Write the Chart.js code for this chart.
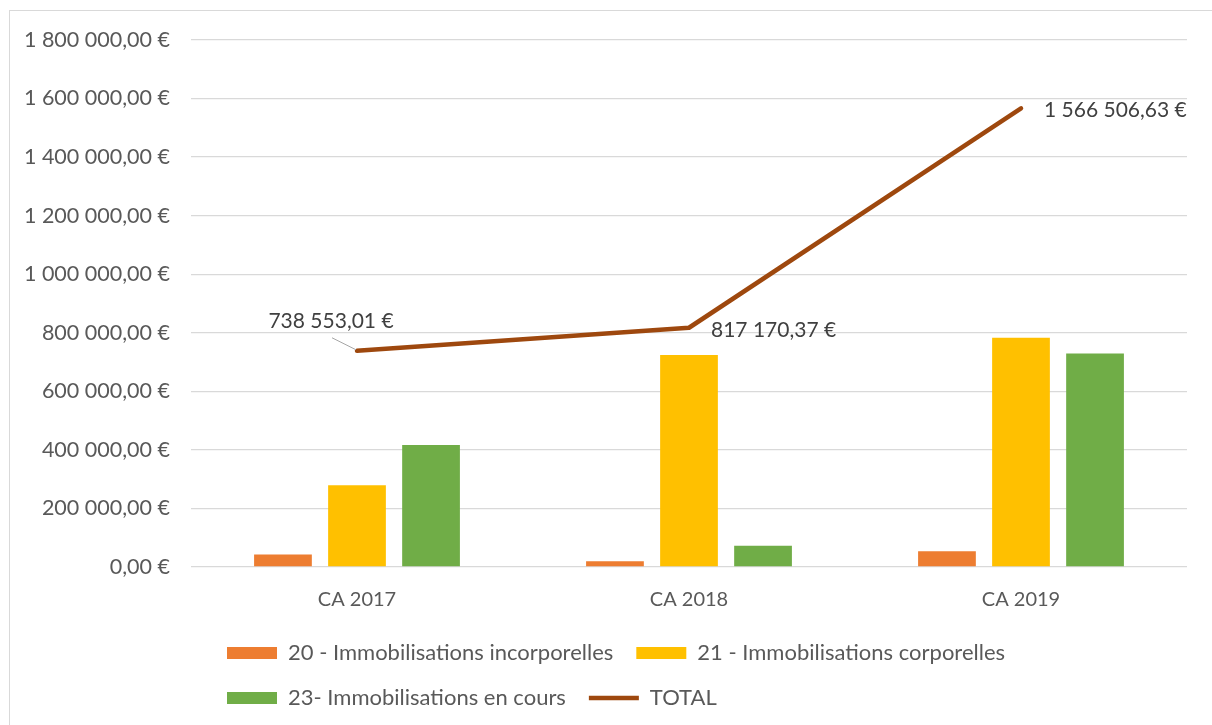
<!DOCTYPE html>
<html>
<head>
<meta charset="utf-8">
<script src="https://cdn.jsdelivr.net/npm/chart.js@4/dist/chart.umd.min.js"></script>
<style>
  body { margin: 0; background: #fff; }
  canvas { display: block; }
</style>
</head>
<body>
<canvas id="graphique" width="1212" height="725"></canvas>
<script>
const categories = ["CA 2017", "CA 2018", "CA 2019"]
const incorporelles = [43000, 20000, 54000]
const corporelles = [279000, 724000, 783000]
const enCours = [416500, 73000, 729500]
const total = [738553.01, 817170.37, 1566506.63]
const yMin = 0
const yMax = 1800000
const yStep = 200000

function euro(v) {
    const [ent, dec] = v.toFixed(2).split(".")
    return ent.replace(/\B(?=(\d{3})+(?!\d))/g, " ") + "," + dec + " €"
}

const police = "Lato, 'Open Sans', sans-serif"

// fond blanc + cadre gris clair autour du graphique
const cadre = {
    id: "cadre",
    beforeDraw(chart) {
        const ctx = chart.ctx
        ctx.save()
        ctx.fillStyle = "#fff"
        ctx.fillRect(0, 0, chart.width, chart.height)
        ctx.strokeStyle = "#d9d9d9"
        ctx.lineWidth = 1
        ctx.strokeRect(9.5, 10.5, chart.width + 20, chart.height + 20)
        ctx.restore()
    },
    afterLayout(chart) {
        // la légende commence un peu plus à droite que la zone de tracé
        chart.legend.left += 13
        chart.legend.right += 13
    }
}

// étiquettes des totaux sur la courbe
const etiquettes = {
    id: "etiquettes",
    afterDatasetsDraw(chart) {
        const ctx = chart.ctx
        const meta = chart.getDatasetMeta(3)
        const decalages = [[-26, -30], [22, 2], [23, 2]]
        ctx.save()
        ctx.font = "21px " + police
        ctx.fillStyle = "#404040"
        ctx.textBaseline = "middle"
        meta.data.forEach((pt, i) => {
            const [dx, dy] = decalages[i]
            const txt = euro(total[i])
            if (i === 0) {
                ctx.textAlign = "center"
                ctx.fillText(txt, pt.x + dx, pt.y + dy)
                ctx.strokeStyle = "#a6a6a6"
                ctx.lineWidth = 1
                ctx.beginPath()
                ctx.moveTo(pt.x - 25, pt.y - 13)
                ctx.lineTo(pt.x - 1, pt.y - 1)
                ctx.stroke()
            } else {
                ctx.textAlign = "left"
                ctx.fillText(txt, pt.x + dx, pt.y + dy)
            }
        })
        ctx.restore()
    }
}

const ctx = document.querySelector("#graphique")
const grafica = new Chart(ctx, {
    type: "bar",
    data: {
        labels: categories,
        datasets: [
            {
                label: "20 - Immobilisations incorporelles",
                data: incorporelles,
                backgroundColor: "#ED7D31"
            },
            {
                label: "21 - Immobilisations corporelles",
                data: corporelles,
                backgroundColor: "#FFC000"
            },
            {
                label: "23- Immobilisations en cours",
                data: enCours,
                backgroundColor: "#70AD47"
            },
            {
                type: "line",
                label: "TOTAL",
                data: total,
                borderColor: "#9E480E",
                backgroundColor: "#9E480E",
                borderWidth: 4.5,
                borderCapStyle: "round",
                borderJoinStyle: "round",
                pointRadius: 0,
                tension: 0,
                order: -1
            }
        ]
    },
    options: {
        responsive: false,
        animation: false,
        devicePixelRatio: 1,
        categoryPercentage: 0.669,
        barPercentage: 0.78,
        layout: { padding: { left: 0, right: 25, top: 40, bottom: 6 } },
        scales: {
            x: {
                grid: { display: false },
                border: { display: false },
                ticks: { color: "#595959", font: { family: police, size: 20 }, padding: 13 },
                afterFit(scale) { scale.height = 52 }
            },
            y: {
                min: yMin,
                max: yMax,
                grid: { color: "#d9d9d9", lineWidth: 1.3, drawTicks: false },
                border: { display: false },
                ticks: {
                    stepSize: yStep,
                    color: "#595959",
                    font: { family: police, size: 21.5 },
                    padding: 21,
                    callback: v => euro(v)
                },
                afterFit(scale) { scale.width = 191 }
            }
        },
        plugins: {
            tooltip: { enabled: false },
            legend: {
                position: "bottom",
                align: "start",
                fullSize: false,
                labels: {
                    color: "#595959",
                    font: { family: police, size: 22 },
                    usePointStyle: true,
                    pointStyleWidth: 50,
                    boxHeight: 12,
                    padding: 23,
                    sort: (a, b) => a.datasetIndex - b.datasetIndex,
                    generateLabels: chart =>
                        Chart.defaults.plugins.legend.labels.generateLabels(chart).map(l => ({
                            ...l,
                            pointStyle: l.datasetIndex === 3 ? "line" : "rect"
                        }))
                }
            }
        }
    },
    plugins: [cadre, etiquettes]
})
</script>
</body>
</html>
